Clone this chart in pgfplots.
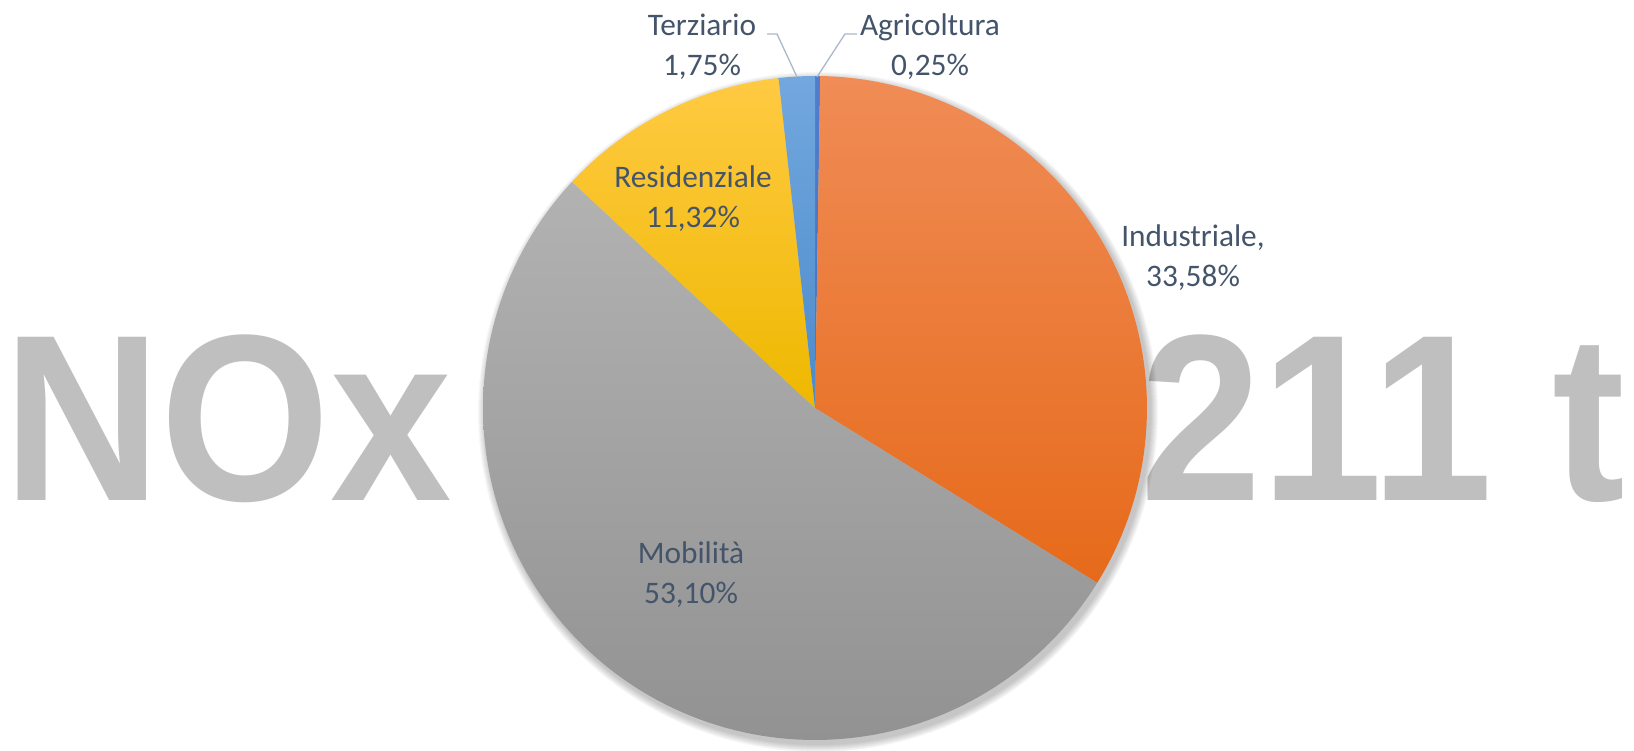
\documentclass[border=0pt]{standalone}
\usepackage{pgfplots}
\pgfplotsset{compat=1.18}
\usepackage{fontspec}
\setmainfont{Carlito}
\newfontfamily\bigfont{Liberation Sans}

\definecolor{labelc}{HTML}{44546A}
\definecolor{bigtext}{HTML}{BFBFBF}
\definecolor{leader}{HTML}{ADB9CA}

% slice: #1 cumulative share before, #2 share (%), #3 style
\newcommand\slice[3]{%
  \addplot[draw=none, #3, domain={90-3.6*(#1+#2)}:{90-3.6*(#1)}, samples=120]
    ({815+332*cos(x)}, {342+332*sin(x)}) -- (axis cs:815,342) -- cycle;
}

\begin{document}
\begin{tikzpicture}[x=0.75pt, y=0.75pt]
% big background title
\node[anchor=base west, inner sep=0, text=bigtext, xscale=0.92,
  font=\bigfont\bfseries\fontsize{178}{200}\selectfont] at (3,249) {NOx};
\node[anchor=base west, inner sep=0, text=bigtext, xscale=0.92,
  font=\bigfont\bfseries\fontsize{178}{200}\selectfont] at (1140,249) {211 t};

\begin{axis}[
  scale only axis,
  width=1225.5pt, height=562.5pt,
  xmin=0, xmax=1634, ymin=0, ymax=750,
  hide axis, clip=false,
]
% soft shadow
\pgfplotsinvokeforeach{0,...,7}{
  \addplot[draw=none, fill=black, fill opacity=0.03, domain=0:360, samples=180]
    ({818+(333+#1)*cos(x)}, {338+(333+#1)*sin(x)}) -- cycle;
}

\slice{0}{0.25}{top color={rgb,255:red,80;green,125;blue,205}, bottom color={rgb,255:red,68;green,114;blue,196}}
\slice{0.25}{33.58}{top color={rgb,255:red,240;green,140;blue,86}, middle color={rgb,255:red,244;green,124;blue,44}, bottom color={rgb,255:red,230;green,106;blue,26}}
\slice{33.83}{53.10}{top color={rgb,255:red,178;green,178;blue,178}, middle color={rgb,255:red,166;green,166;blue,166}, bottom color={rgb,255:red,146;green,146;blue,146}}
\slice{86.93}{11.32}{top color={rgb,255:red,255;green,202;blue,66}, middle color={rgb,255:red,255;green,192;blue,0}, bottom color={rgb,255:red,238;green,184;blue,0}}
\slice{98.25}{1.75}{top color={rgb,255:red,114;green,168;blue,222}, middle color={rgb,255:red,95;green,157;blue,215}, bottom color={rgb,255:red,76;green,138;blue,203}}

% leader lines
\addplot[leader, line width=1pt, mark=none] coordinates {(767,716) (777,716) (797,673)};
\addplot[leader, line width=1pt, mark=none] coordinates {(857,716) (845,716) (817,673)};

% labels
\tikzset{lab/.style={align=center, text=labelc, inner sep=0,
  font=\fontsize{23.5}{30}\selectfont}}
\node[lab] at (axis cs:702,703) {Terziario\\1,75\%};
\node[lab] at (axis cs:930,703) {Agricoltura\\0,25\%};
\node[lab] at (axis cs:693,551) {Residenziale\\11,32\%};
\node[lab] at (axis cs:1193,492) {Industriale,\\33,58\%};
\node[lab] at (axis cs:691,175) {Mobilità\\53,10\%};
\end{axis}
\pgfresetboundingbox
\path (0,0) rectangle (1634,750);
\end{tikzpicture}
\end{document}
